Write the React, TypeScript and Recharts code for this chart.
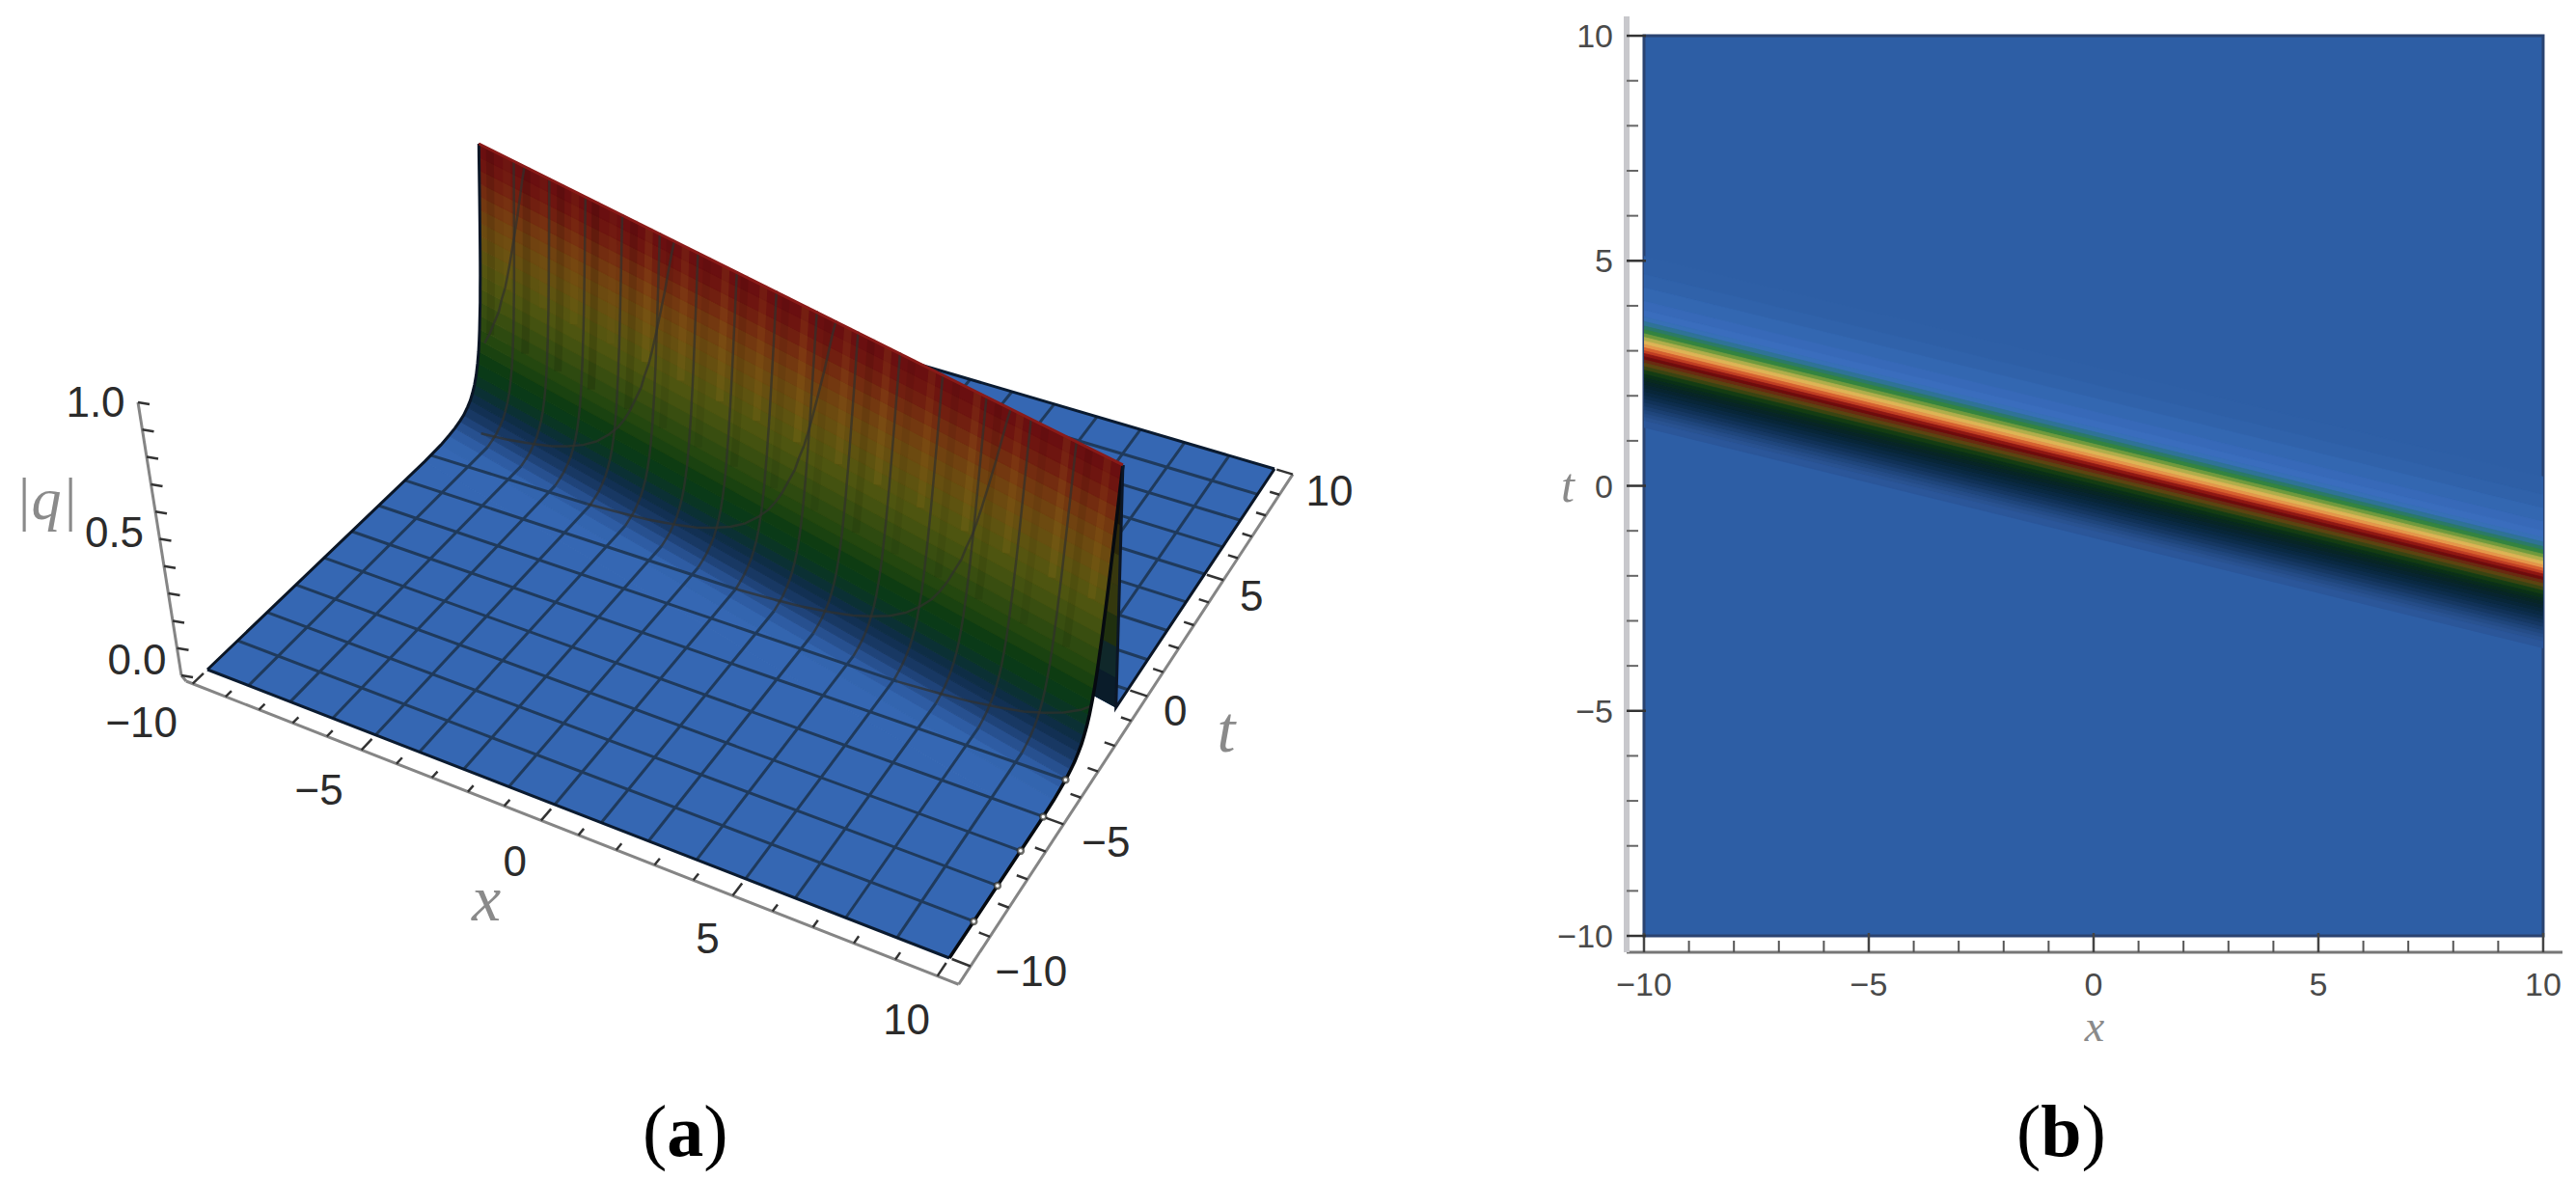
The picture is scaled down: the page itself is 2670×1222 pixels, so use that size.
import React from 'react';
import { ComposedChart, Area, Line, Scatter, XAxis, YAxis, ReferenceArea } from 'recharts';

// ridge crest: t at x = -10 and at x = 10
const ridgeEnds = [2.9, -2.0];

// surface cross section in front of the crest: offset from crest in t, height |q|
const wallOffsets = [-3.2, -2.4, -2.0, -1.7, -1.45, -1.25, -1.05, -0.9, -0.78, -0.66, -0.56, -0.47, -0.4, -0.35, -0.31, -0.27, -0.23, -0.205, -0.175, -0.153, -0.133, -0.115, -0.097, -0.08, -0.063, -0.048, -0.033, -0.018, 0];
const wallHeights = [0, 0.004, 0.01, 0.016, 0.025, 0.034, 0.05, 0.065, 0.085, 0.11, 0.14, 0.18, 0.22, 0.26, 0.3, 0.35, 0.4, 0.45, 0.5, 0.55, 0.6, 0.65, 0.7, 0.75, 0.8, 0.85, 0.9, 0.95, 1];
const wallColors = ['#3567b3', '#3365af', '#2e5ca3', '#27508f', '#1f4379', '#183863', '#123053', '#0e2d45', '#0b3034', '#0a3524', '#0a3a18', '#0e3c12', '#1a4210', '#24470f', '#2e4a10', '#394e10', '#445210', '#4e5510', '#565510', '#5e5310', '#664f10', '#6c4a10', '#704210', '#733810', '#732c10', '#711f10', '#6e1510', '#6a0f10'];

// behind the crest the surface falls almost straight down to the plane
const backOffsets = [0, 0.16, 0.32, 0.48, 0.64, 0.8, 0.96, 1.12, 1.27];
const backColors = ['#0c0804', '#1c1606', '#2c280a', '#38380e', '#34380e', '#20300f', '#10282a', '#0a1c2a'];

const meshValues = [-8.75, -7.5, -6.25, -5, -3.75, -2.5, -1.25, 0, 1.25, 2.5, 3.75, 5, 6.25, 7.5, 8.75];
const stripeX = [-9.6, -9, -8.3, -7.7, -7.1, -6.6, -5.9, -5.3, -4.6, -4.1, -3.4, -2.9, -2.2, -1.6, -1, -0.4, 0.3, 0.9, 1.6, 2.2, 2.9, 3.4, 4.1, 4.7, 5.4, 6, 6.6, 7.2, 7.9, 8.5, 9.1, 9.6];
const stripeShade = [0.1, 0.06, 0.12, 0.05, 0.11, 0.07, 0.13, 0.05, 0.1, 0.12, 0.06, 0.11, 0.05, 0.12, 0.07, 0.1, 0.06, 0.13, 0.05, 0.11, 0.08, 0.12, 0.05, 0.1, 0.06, 0.12, 0.07, 0.1, 0.05, 0.12, 0.07, 0.1];

const axisTicks = [-10, -9, -8, -7, -6, -5, -4, -3, -2, -1, 0, 1, 2, 3, 4, 5, 6, 7, 8, 9, 10];
const majorTicks = [-10, -5, 0, 5, 10];
const heightTicks = [0, 0.1, 0.2, 0.3, 0.4, 0.5, 0.6, 0.7, 0.8, 0.9, 1];
const heightLabels = ['0.0', '0.5', '1.0'];

// density panel: band edges as offset from crest in t, and the colour of each band
const densityOffsets = [2.2, 1.8, 1.5, 1.2, 1.0, 0.85, 0.75, 0.65, 0.57, 0.48, 0.4, 0.32, 0.24, 0.17, 0.1, 0.04, -0.03, -0.1, -0.17, -0.25, -0.33, -0.42, -0.5, -0.58, -0.66, -0.74, -0.82, -0.9, -0.98, -1.06, -1.14, -1.22, -1.3, -1.38, -1.46, -1.6];
const densityColors = ['#2e5fa6', '#3062aa', '#3367b1', '#3769b8', '#3a6dbd', '#3770b6', '#2f7396', '#2b7a66', '#34843f', '#6f9a3c', '#b0ae4a', '#deb455', '#e6974a', '#d8612f', '#c13d22', '#8f1612', '#6e0b0b', '#6a2a10', '#5c4410', '#3a4410', '#143c12', '#0a3016', '#08291e', '#072526', '#07242f', '#082638', '#0a2942', '#0d2d4c', '#113258', '#163863', '#1b3f70', '#20467c', '#254c87', '#295290', '#2b5699'];

const crest = (x: number) => ridgeEnds[0] + ((x + 10) / 20) * (ridgeEnds[1] - ridgeEnds[0]);
const crestSlope = (ridgeEnds[1] - ridgeEnds[0]) / 20;
const backFoot = backOffsets[backOffsets.length - 1];

const heightAt = (d: number) => {
  if (d >= 0) return Math.max(0, 1 - d / backFoot);
  if (d <= wallOffsets[0]) return 0;
  for (let i = 1; i < wallOffsets.length; i++) {
    if (d <= wallOffsets[i]) {
      const f = (d - wallOffsets[i - 1]) / (wallOffsets[i] - wallOffsets[i - 1]);
      return wallHeights[i - 1] + f * (wallHeights[i] - wallHeights[i - 1]);
    }
  }
  return 1;
};

// perspective of the 3D box, fitted to the corners of the base plane
const corners = { A: [215, 694], B: [984, 993], C: [1321, 486], D: [641, 286] };
const basePoint = (u: number, v: number) => {
  const { A, B, C, D } = corners;
  const sx = A[0] - B[0] + C[0] - D[0];
  const sy = A[1] - B[1] + C[1] - D[1];
  const dx1 = B[0] - C[0];
  const dx2 = D[0] - C[0];
  const dy1 = B[1] - C[1];
  const dy2 = D[1] - C[1];
  const den = dx1 * dy2 - dx2 * dy1;
  const g = (sx * dy2 - dx2 * sy) / den;
  const h = (dx1 * sy - sx * dy1) / den;
  const w = g * u + h * v + 1;
  return {
    px: ((B[0] - A[0] + g * B[0]) * u + (D[0] - A[0] + h * D[0]) * v + A[0]) / w,
    py: ((B[1] - A[1] + g * B[1]) * u + (D[1] - A[1] + h * D[1]) * v + A[1]) / w,
  };
};
const project = (x: number, t: number, q: number) => {
  const u = (x + 10) / 20;
  const p = basePoint(u, (t + 10) / 20);
  return { px: p.px + (-10 + 39 * u) * q, py: p.py + (-266 - 18 * u) * q };
};
const onSurface = (x: number, t: number) => project(x, t, heightAt(t - crest(x)));

// turns a convex outline into the rows a range Area wants
const toRange = (poly: { px: number; py: number }[]) => {
  const xs = Array.from(new Set(poly.map((p) => p.px))).sort((a, b) => a - b);
  return xs.map((px) => {
    const ys: number[] = [];
    poly.forEach((p, i) => {
      const q = poly[(i + 1) % poly.length];
      const lo = Math.min(p.px, q.px);
      const hi = Math.max(p.px, q.px);
      if (px < lo || px > hi) return;
      if (hi === lo) ys.push(p.py, q.py);
      else ys.push(p.py + ((px - p.px) / (q.px - p.px)) * (q.py - p.py));
    });
    return { px, range: [Math.min(...ys), Math.max(...ys)] };
  });
};

// draw order, Recharts keeps lines above areas unless told otherwise
const LAYER = { plane: 100, backMesh: 101, wall: 102, stripes: 103, mesh: 104, edges: 105, axes: 106, text: 107 };

const fillShape = (key: string, poly: { px: number; py: number }[], color: string, layer: number) => (
  <Area key={key} data={toRange(poly)} dataKey="range" type="linear" stroke={color} strokeWidth={1} fill={color} fillOpacity={1} dot={false} activeDot={false} isAnimationActive={false} legendType="none" zIndex={layer} />
);
const stroke = (key: string, pts: { px: number; py: number }[], color: string, width: number, layer: number, opacity = 1) => (
  <Line key={key} data={pts} dataKey="py" type="linear" stroke={color} strokeWidth={width} strokeOpacity={opacity} dot={false} activeDot={false} isAnimationActive={false} legendType="none" zIndex={layer} />
);

const frontD = wallOffsets;
const footD = -1.7;

// mesh line at constant x, split in a plane part and a part on the ridge
const meshAlongT = (x: number, side: 'front' | 'back') => {
  const c = crest(x);
  if (side === 'front') {
    const near = frontD.filter((d) => d >= footD && c + d > -10).map((d) => onSurface(x, c + d));
    return { plane: [onSurface(x, -10), onSurface(x, c + footD)], wall: near };
  }
  return { plane: [onSurface(x, c + backFoot), onSurface(x, 10)], wall: [] };
};
// mesh line at constant t, same split
const meshAlongX = (t: number, side: 'front' | 'back') => {
  const cross = -10 + (t - ridgeEnds[0]) / crestSlope;
  if (side === 'front') {
    if (cross <= -10) return { plane: [], wall: [] };
    const ds = frontD.filter((d) => d >= footD);
    const xs = ds.map((d) => cross + d / -crestSlope).filter((x) => x > -10 && x < 10);
    const end = Math.min(cross, 10);
    const wall = [...xs, ...(cross > 10 ? [10] : [])].map((x) => onSurface(x, t));
    const start = cross + footD / -crestSlope;
    const plane = start > -10 ? [onSurface(-10, t), onSurface(Math.min(start, 10), t)] : [];
    return { plane, wall: wall.length ? wall : [onSurface(end, t)] };
  }
  if (cross >= 10) return { plane: [], wall: [] };
  const start = cross - backFoot / crestSlope;
  const plane = start < 10 ? [onSurface(Math.max(start, -10), t), onSurface(10, t)] : [];
  return { plane, wall: [] };
};

const xAxisPoint = (x: number, v: number) => basePoint((x + 10) / 20, v);
const tAxisPoint = (t: number, u: number) => basePoint(u, (t + 10) / 20);
const heightAxisPoint = (q: number) => ({ px: 188 - 45 * q, py: 700 - 283 * q });

const xNudge = [[-53, 40], [-44, 41], [-27, 42], [-26, 44], [-32, 45]];
const tNudge = [[63, 5], [44, 18], [29, 15], [29, 16], [38, 17]];
const hNudge = [[-46, -17], [-47, -7], [-44, -1]];

const numberLabel = (v: number) => (v < 0 ? `\u2212${Math.abs(v)}` : `${v}`);

const textShape = (size: number, color: string, family: string, italic: boolean) => (props: any) => (
  <text x={props.cx} y={props.cy} fontSize={size} fill={color} fontFamily={family} fontStyle={italic ? 'italic' : 'normal'} textAnchor="middle" dominantBaseline="central">
    {props.payload.label}
  </text>
);

const sans = 'Liberation Sans';
const serif = 'Liberation Serif';

const tickLabels3d = [
  ...majorTicks.map((v, i) => {
    const p = xAxisPoint(v, -0.03);
    return { px: p.px + xNudge[i][0], py: p.py + xNudge[i][1], label: numberLabel(v) };
  }),
  ...majorTicks.map((v, i) => {
    const p = tAxisPoint(v, 1.025);
    return { px: p.px + tNudge[i][0], py: p.py + tNudge[i][1], label: numberLabel(v) };
  }),
  ...heightLabels.map((s, i) => {
    const p = heightAxisPoint(Number(s));
    return { px: p.px + hNudge[i][0], py: p.py + hNudge[i][1], label: s };
  }),
];

function Surface() {
  const a = project(-10, -10, 0);
  const b = project(10, -10, 0);
  const c = project(10, 10, 0);
  const d = project(-10, 10, 0);
  const foot = wallOffsets[0];
  const bandPoly = (d1: number, d2: number) => [
    project(-10, crest(-10) + d1, heightAt(d1)),
    project(10, crest(10) + d1, heightAt(d1)),
    project(10, crest(10) + d2, heightAt(d2)),
    project(-10, crest(-10) + d2, heightAt(d2)),
  ];
  const leftEdge = [onSurface(-10, -10), ...frontD.map((o) => onSurface(-10, crest(-10) + o))];
  const rightFront = [onSurface(10, -10), ...frontD.map((o) => onSurface(10, crest(10) + o))];
  const rightBack = [project(10, crest(10), 1), project(10, crest(10) + backFoot, 0), onSurface(10, 10)];

  return (
    <ComposedChart width={1500} height={1222} margin={{ top: 0, right: 0, bottom: 0, left: 0 }}>
      <XAxis hide type="number" dataKey="px" domain={[0, 1500]} allowDataOverflow />
      <YAxis hide type="number" dataKey="py" domain={[0, 1222]} reversed allowDataOverflow />

      {fillShape('planeFront', [a, b, project(10, crest(10) + foot, 0), project(-10, crest(-10) + foot, 0)], '#3567b3', LAYER.plane)}
      {fillShape('planeBack', [project(-10, crest(-10) + backFoot, 0), project(10, crest(10) + backFoot, 0), c, d], '#3567b3', LAYER.plane)}
      {meshValues.flatMap((v) => {
        const mx = meshAlongT(v, 'back');
        const mt = meshAlongX(v, 'back');
        return [
          stroke(`bxp${v}`, mx.plane, '#1f3a5c', 3, LAYER.backMesh),
          stroke(`btp${v}`, mt.plane, '#1f3a5c', 3, LAYER.backMesh),
        ];
      })}
      {stroke('backEdge', [d, c], '#0b1b30', 3, LAYER.backMesh)}

      {backColors.map((color, i) => fillShape(`back${i}`, bandPoly(backOffsets[i], backOffsets[i + 1]), color, LAYER.wall))}
      {wallColors.map((color, i) => fillShape(`wall${i}`, bandPoly(wallOffsets[i], wallOffsets[i + 1]), color, LAYER.wall))}

      {stripeX.map((x, i) =>
        stroke(
          `stripe${i}`,
          frontD.slice(i % 2 ? 18 : 14).map((o) => onSurface(x, crest(x) + o)),
          i % 2 ? '#c08a20' : '#000000',
          8,
          LAYER.stripes,
          stripeShade[i],
        ),
      )}

      {meshValues.flatMap((v) => {
        const mx = meshAlongT(v, 'front');
        const mt = meshAlongX(v, 'front');
        return [
          stroke(`fxp${v}`, mx.plane, '#1f3a5c', 3, LAYER.mesh),
          stroke(`fxw${v}`, mx.wall, '#30302c', 2.5, LAYER.mesh, 0.7),
          stroke(`ftp${v}`, mt.plane, '#1f3a5c', 3, LAYER.mesh),
          stroke(`ftw${v}`, mt.wall, '#30302c', 2.5, LAYER.mesh, 0.7),
        ];
      })}

      {stroke('frontEdge', [a, b], '#0b1b30', 3, LAYER.edges)}
      {stroke('leftEdge', leftEdge, '#0b1626', 3, LAYER.edges)}
      {stroke('rightFront', rightFront, '#060a10', 3.5, LAYER.edges)}
      {stroke('rightBack', rightBack, '#0b1626', 3, LAYER.edges)}
      {stroke('crestLine', [project(-10, crest(-10), 1), project(10, crest(10), 1)], '#8a1a18', 3, LAYER.edges)}

      {stroke('xAxis', [xAxisPoint(-10.2, -0.03), xAxisPoint(10.5, -0.03)], '#858585', 3, LAYER.axes)}
      {stroke('tAxis', [tAxisPoint(-10.6, 1.025), tAxisPoint(10, 1.025)], '#858585', 3, LAYER.axes)}
      {stroke('hAxis', [heightAxisPoint(0), heightAxisPoint(1)], '#858585', 3, LAYER.axes)}
      {stroke('hFoot', [heightAxisPoint(0), xAxisPoint(-10.2, -0.03)], '#858585', 3, LAYER.axes)}
      {axisTicks.map((v) =>
        stroke(`xt${v}`, [xAxisPoint(v, -0.03), xAxisPoint(v, majorTicks.includes(v) ? -0.008 : -0.018)], '#333333', 2.5, LAYER.axes),
      )}
      {axisTicks.map((v) =>
        stroke(`tt${v}`, [tAxisPoint(v, 1.025), tAxisPoint(v, majorTicks.includes(v) ? 1.003 : 1.012)], '#333333', 2.5, LAYER.axes),
      )}
      {heightTicks.map((v) => {
        const p = heightAxisPoint(v);
        return stroke(`ht${v}`, [p, { px: p.px + 12, py: p.py + 2 }], '#333333', 2.5, LAYER.axes);
      })}

      <Scatter data={tickLabels3d} dataKey="py" isAnimationActive={false} legendType="none" zIndex={LAYER.text} shape={textShape(44, '#2b2b2b', sans, false)} />
      <Scatter data={[{ px: 504, py: 931, label: 'x' }, { px: 1271, py: 756, label: 't' }]} dataKey="py" isAnimationActive={false} legendType="none" zIndex={LAYER.text} shape={textShape(68, '#8a8a8a', serif, true)} />
      <Scatter data={[{ px: 48, py: 517, label: '|q|' }]} dataKey="py" isAnimationActive={false} legendType="none" zIndex={LAYER.text} shape={textShape(62, '#8a8a8a', serif, true)} />
    </ComposedChart>
  );
}

const bottomTick = (props: any) => {
  const v = props.payload.value;
  const major = majorTicks.includes(v);
  return (
    <g>
      <line x1={props.x} x2={props.x} y1={props.y} y2={props.y - (major ? 20 : 12)} stroke={major ? '#444444' : '#555555'} strokeWidth={major ? 2.5 : 2} />
      {major && (
        <text x={props.x} y={props.y + 45} textAnchor="middle" fontSize={34} fill="#4a4a4a" fontFamily={sans}>
          {numberLabel(v)}
        </text>
      )}
    </g>
  );
};
const leftTick = (props: any) => {
  const v = props.payload.value;
  const major = majorTicks.includes(v);
  return (
    <g>
      <line x1={props.x} x2={props.x + (major ? 20 : 12)} y1={props.y} y2={props.y} stroke={major ? '#333333' : '#666666'} strokeWidth={major ? 2.5 : 2} />
      {major && (
        <text x={props.x - 14} y={props.y + 12} textAnchor="end" fontSize={34} fill="#4a4a4a" fontFamily={sans}>
          {numberLabel(v)}
        </text>
      )}
    </g>
  );
};

function Density() {
  return (
    <ComposedChart width={1110} height={1100} margin={{ top: 17, right: 14, bottom: 43, left: 66 }}>
      <XAxis
        type="number"
        dataKey="x"
        domain={[-10.386, 10.43]}
        ticks={axisTicks}
        interval={0}
        allowDataOverflow
        height={70}
        tickSize={0}
        tickMargin={0}
        tick={bottomTick}
        tickLine={false}
        axisLine={{ stroke: '#777777', strokeWidth: 3 }}
        label={{ value: 'x', position: 'insideBottom', offset: -22, style: { fontFamily: serif, fontStyle: 'italic', fontSize: 46, fill: '#8a8a8a' } }}
      />
      <YAxis
        type="number"
        domain={[-10.364, 10.43]}
        ticks={axisTicks}
        interval={0}
        allowDataOverflow
        width={60}
        tickSize={0}
        tickMargin={0}
        tick={leftTick}
        tickLine={false}
        axisLine={{ stroke: '#c8c8cc', strokeWidth: 6 }}
        label={{ value: 't', position: 'insideLeft', offset: -8, style: { fontFamily: serif, fontStyle: 'italic', fontSize: 50, fill: '#8a8a8a' } }}
      />
      <ReferenceArea x1={-10} x2={10} y1={-10} y2={10} fill="#2d5ea5" fillOpacity={1} stroke="#2a4371" strokeWidth={3} />
      {densityColors.map((color, i) => (
        <Area
          key={i}
          data={[-10, 10].map((x) => ({ x, range: [crest(x) + densityOffsets[i + 1], crest(x) + densityOffsets[i]] }))}
          dataKey="range"
          type="linear"
          stroke={color}
          strokeWidth={0.8}
          fill={color}
          fillOpacity={1}
          dot={false}
          activeDot={false}
          isAnimationActive={false}
          legendType="none"
        />
      ))}
    </ComposedChart>
  );
}

const captionStyle: React.CSSProperties = { position: 'absolute', fontFamily: serif, fontSize: 76, color: '#000', lineHeight: 1 };

export default function App() {
  return (
    <div style={{ position: 'absolute', left: 0, top: 0, width: 2670, height: 1222, background: '#fff', overflow: 'hidden' }}>
      <div style={{ position: 'absolute', left: 0, top: 0 }}>
        <Surface />
      </div>
      <div style={{ position: 'absolute', left: 1560, top: 0 }}>
        <Density />
      </div>
      <div style={{ ...captionStyle, left: 666, top: 1134 }}>
        (<b>a</b>)
      </div>
      <div style={{ ...captionStyle, left: 2090, top: 1134 }}>
        (<b>b</b>)
      </div>
    </div>
  );
}
